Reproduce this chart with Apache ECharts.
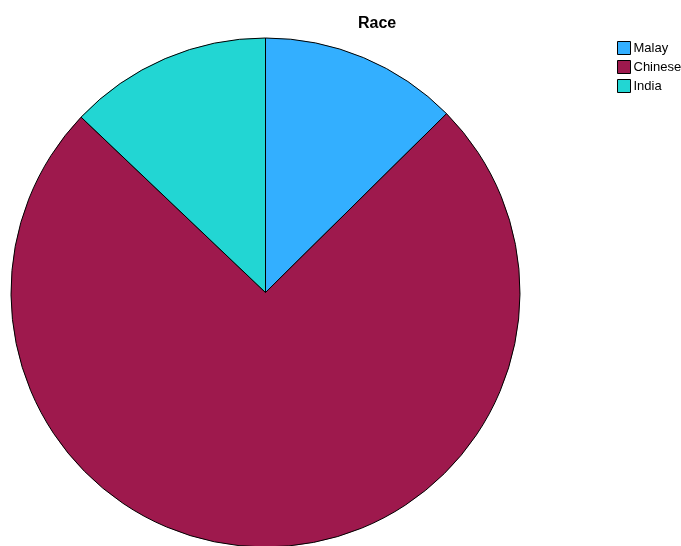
<!DOCTYPE html>
<html>
<head>
<meta charset="utf-8">
<style>
  html, body { margin: 0; padding: 0; background: #fff; }
  #chart { width: 681px; height: 546px; }
</style>
<script src="https://cdn.jsdelivr.net/npm/echarts@6/dist/echarts.min.js"></script>
</head>
<body>
<div id="chart"></div>
<script>
// Share of respondents by race (percent)
const categories = ['Malay', 'Chinese', 'India'];
const values = [12.6, 74.5, 12.9];
const colors = ['#33afff', '#9e194d', '#22d6d3'];

const chart = echarts.init(document.getElementById('chart'), null, { renderer: 'canvas' });

chart.setOption({
  animation: false,
  backgroundColor: '#ffffff',
  title: {
    text: 'Race',
    left: 353,
    top: 11,
    textStyle: {
      fontFamily: 'Liberation Sans, Arial, sans-serif',
      fontSize: 16,
      fontWeight: 'bold',
      color: '#000'
    }
  },
  legend: {
    orient: 'vertical',
    left: 612,
    top: 36,
    itemWidth: 13,
    itemHeight: 13,
    itemGap: 5,
    icon: 'rect',
    data: categories,
    textStyle: {
      fontFamily: 'Liberation Sans, Arial, sans-serif',
      fontSize: 13,
      lineHeight: 13,
      color: '#000',
      padding: [0, 0, 0, -2]
    },
    itemStyle: { borderColor: '#000', borderWidth: 1 }
  },
  series: [{
    type: 'pie',
    center: [265.5, 292.5],
    radius: 254.5,
    startAngle: 90,
    clockwise: true,
    label: { show: false },
    labelLine: { show: false },
    emphasis: { disabled: true },
    itemStyle: { borderColor: '#000', borderWidth: 1 },
    data: categories.map((name, i) => ({
      name,
      value: values[i],
      itemStyle: { color: colors[i] }
    }))
  }]
});
</script>
</body>
</html>
